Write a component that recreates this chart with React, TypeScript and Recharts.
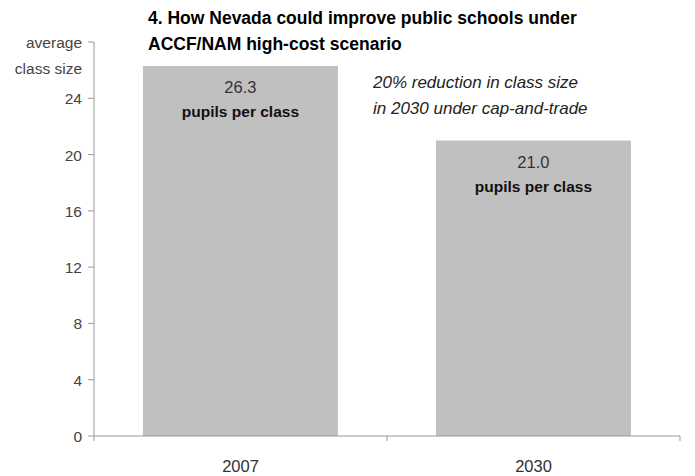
import React from "react";
import { BarChart, Bar, XAxis, YAxis, LabelList } from "recharts";

const categories = ["2007", "2030"];
const classSizes = [26.3, 21.0];
const valueLabels = ["26.3", "21.0"];
const yTicks = [0, 4, 8, 12, 16, 20, 24, 28];

const data = categories.map((c, i) => ({ year: c, size: classSizes[i], label: valueLabels[i] }));

const FONT = "'Liberation Sans', Arial, sans-serif";

const YTick = (props: any) => {
  const { x, y, payload } = props;
  if (payload.value === 28) {
    return (
      <g>
        <line x1={x + 2} x2={x + 8} y1={y} y2={y} stroke="#999" />
        <text x={x - 4} y={y + 6} textAnchor="end" fontSize={15.5} fill="#444" fontFamily={FONT}>average</text>
        <text x={x - 4} y={y + 32} textAnchor="end" fontSize={15.5} fill="#444" fontFamily={FONT}>class size</text>
      </g>
    );
  }
  return (
    <g>
      <line x1={x + 2} x2={x + 8} y1={y} y2={y} stroke="#999" />
      <text x={x - 4} y={y + 6} textAnchor="end" fontSize={15.5} fill="#444" fontFamily={FONT}>{payload.value}</text>
    </g>
  );
};

const XTick = (props: any) => {
  const { x, y, payload, index } = props;
  const half = 146.5;
  return (
    <g>
      <line x1={x - half} x2={x - half} y1={y - 8} y2={y - 3} stroke="#999" />
      {index === categories.length - 1 && (
        <line x1={x + half} x2={x + half} y1={y - 8} y2={y - 3} stroke="#999" />
      )}
      <text x={x} y={y + 28} textAnchor="middle" fontSize={16.5} fill="#333" fontFamily={FONT}>{payload.value}</text>
    </g>
  );
};

const BarLabel = (props: any) => {
  const { x, y, width, value } = props;
  const cx = x + width / 2;
  return (
    <g fontFamily={FONT}>
      <text x={cx} y={y + 27} textAnchor="middle" fontSize={16.5} fill="#333">{value}</text>
      <text x={cx} y={y + 51} textAnchor="middle" fontSize={15.5} fontWeight="bold" fill="#111">pupils per class</text>
    </g>
  );
};

export default function App() {
  return (
    <div style={{ position: "absolute", left: 0, top: 0, width: 695, height: 476, background: "#fff" }}>
      <BarChart
        width={695}
        height={476}
        data={data}
        margin={{ top: 42, right: 15, bottom: 0, left: 0 }}
        barCategoryGap="16.7%"
      >
        <XAxis
          dataKey="year"
          axisLine={{ stroke: "#999" }}
          tickLine={false}
          height={40}
          tick={<XTick />}
          interval={0}
        />
        <YAxis
          domain={[0, 28]}
          ticks={yTicks}
          width={94}
          axisLine={{ stroke: "#999" }}
          tickLine={false}
          tick={<YTick />}
          interval={0}
        />
        <Bar dataKey="size" fill="#c0c0c0" isAnimationActive={false}>
          <LabelList dataKey="label" content={<BarLabel />} />
        </Bar>
      </BarChart>
      <div
        style={{
          position: "absolute",
          left: 148,
          top: 5,
          fontFamily: FONT,
          fontWeight: "bold",
          fontSize: 17.5,
          lineHeight: "26px",
          color: "#000",
          whiteSpace: "nowrap",
        }}
      >
        <div>4. How Nevada could improve public schools under</div>
        <div>ACCF/NAM high-cost scenario</div>
      </div>
      <div
        style={{
          position: "absolute",
          left: 373,
          top: 70,
          fontFamily: FONT,
          fontStyle: "italic",
          fontSize: 17,
          lineHeight: "26px",
          color: "#222",
          whiteSpace: "nowrap",
        }}
      >
        <div>20% reduction in class size</div>
        <div>in 2030 under cap-and-trade</div>
      </div>
    </div>
  );
}
